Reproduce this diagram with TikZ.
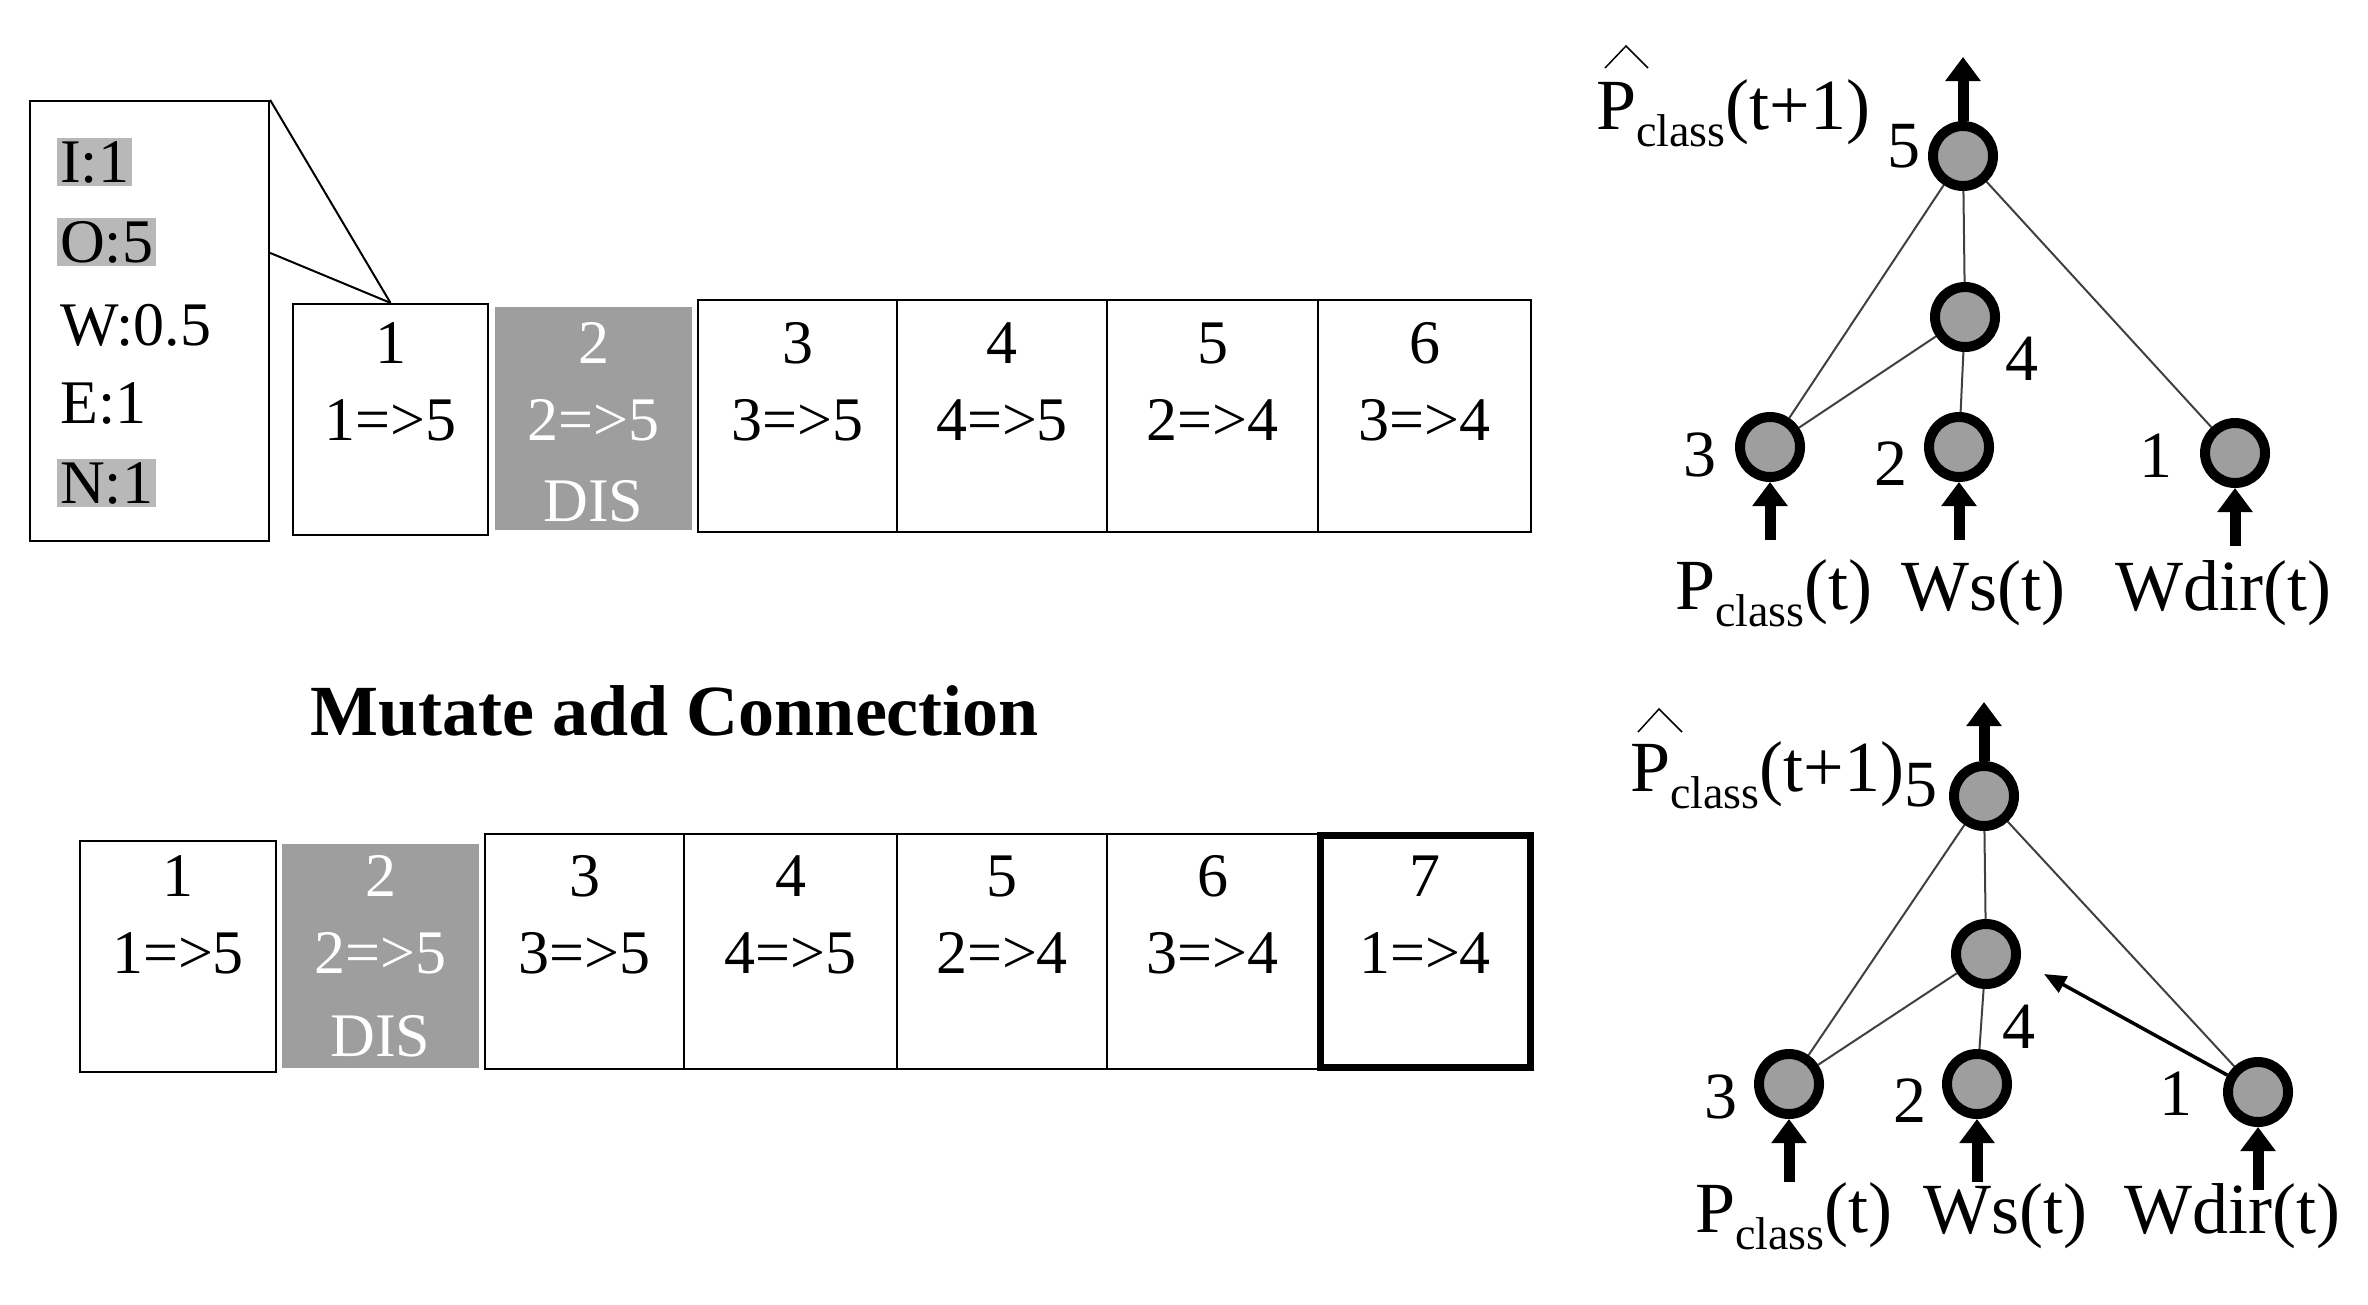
\documentclass[tikz,border=0pt]{standalone}
\usepackage{fontspec}
\setmainfont{Liberation Serif}
\usetikzlibrary{arrows.meta}
\begin{document}
\begin{tikzpicture}[x=1pt,y=-1pt,
  txt/.style={inner sep=0pt,font=\fontsize{62}{70}\selectfont},
  gtxt/.style={txt,text=white},
  box/.style={draw,line width=2.2pt,inner sep=0pt},
  dis/.style={fill=black!38,inner sep=0pt},
  hl/.style={txt,fill=black!28,inner sep=3pt,anchor=west},
  neu/.style={circle,draw,line width=10pt,fill=black!38,minimum size=60pt,inner sep=0pt},
  nlab/.style={inner sep=0pt,font=\fontsize{66}{70}\selectfont},
  io/.style={inner sep=0pt,font=\fontsize{72}{76}\selectfont},
  conn/.style={draw=black!75,line width=2pt},
  thick arrow/.style={line width=11pt,-{Triangle[width=34pt,length=24pt]}}]
\useasboundingbox (0,0) rectangle (2368,1304);
% ---- gene detail box
\node[box,minimum width=239pt,minimum height=440pt] (detail) at (149.5,321) {};
\node[hl] (gi) at (57,162) {I:1};
\node[hl] (go) at (57,242) {O:5};
\node[txt,anchor=west] (gw) at (60,325) {W:0.5};
\node[txt,anchor=west] (ge) at (60,403) {E:1};
\node[hl] (gn) at (57,483) {N:1};
% ---- top genome
\node[box,minimum width=195pt,minimum height=231pt] (t1) at (390.5,419.5) {};
\node[dis,minimum width=197pt,minimum height=223pt] (t2) at (593.5,418.5) {};
\foreach \i/\a/\b in {3/698/897,4/897/1107,5/1107/1318,6/1318/1531}{
  \node[box,minimum width=\b pt-\a pt,minimum height=232pt] (t\i) at ({(\a+\b)/2},416) {};}
\draw[line width=2pt] (t1.north) -- (detail.north east);
\draw[line width=2pt] (t1.north) -- ([yshift=-153pt]detail.north east);
\foreach \i/\e [count=\k] in {1/1=>5,2/2=>5,3/3=>5,4/4=>5,5/2=>4,6/3=>4}{
  \ifnum\k=2
    \node[gtxt] (tn\k) at (t\k.center |- 0,343) {\i};
    \node[gtxt] (te\k) at (t\k.center |- 0,420) {\e};
    \node[gtxt] (td\k) at (t\k.center |- 0,501) {DIS};
  \else
    \node[txt] (tn\k) at (t\k.center |- 0,343) {\i};
    \node[txt] (te\k) at (t\k.center |- 0,420) {\e};
  \fi}
% ---- title
\node[inner sep=0pt,font=\fontsize{72}{76}\selectfont\bfseries] (title) at (675,711) {Mutate add Connection};
% ---- bottom genome
\node[box,minimum width=196pt,minimum height=231pt] (b1) at (178,956.5) {};
\node[dis,minimum width=197pt,minimum height=224pt] (b2) at (380.5,956) {};
\foreach \i/\a/\b in {3/485/684,4/684/897,5/897/1107,6/1107/1318}{
  \node[box,minimum width=\b pt-\a pt,minimum height=235pt] (b\i) at ({(\a+\b)/2},951.5) {};}
\node[draw,line width=7pt,inner sep=0pt,minimum width=210pt,minimum height=232pt] (b7) at (1425,951.5) {};
\foreach \i/\e [count=\k] in {1/1=>5,2/2=>5,3/3=>5,4/4=>5,5/2=>4,6/3=>4,7/1=>4}{
  \ifnum\k=2
    \node[gtxt] (bn\k) at (b\k.center |- 0,876) {\i};
    \node[gtxt] (be\k) at (b\k.center |- 0,953) {\e};
    \node[gtxt] (bd\k) at (b\k.center |- 0,1036) {DIS};
  \else
    \node[txt] (bn\k) at (b\k.center |- 0,876) {\i};
    \node[txt] (be\k) at (b\k.center |- 0,953) {\e};
  \fi}
% ---- top network
\node[neu] (n5) at (1963,156) {};
\node[neu] (n4) at (1965,317) {};
\node[neu] (n3) at (1770,447) {};
\node[neu] (n2) at (1959,447) {};
\node[neu] (n1) at (2235,453) {};
\draw[conn] (n5) -- (n3); \draw[conn] (n5) -- (n4); \draw[conn] (n5) -- (n1);
\draw[conn] (n4) -- (n3); \draw[conn] (n4) -- (n2);
\node[nlab] (l5) at (1904,146) {5};
\node[nlab] (l4) at (2022,359) {4};
\node[nlab] (l3) at (1700,455) {3};
\node[nlab] (l2) at (1891,464) {2};
\node[nlab] (l1) at (2156,456) {1};
\coordinate (o5) at (1963,57);
\draw[thick arrow] (n5) -- (o5);
\node[io] (pin) at (1774,593) {P\raisebox{-0.5ex}{\fontsize{46}{50}\selectfont class}(t)};
\node[io] (ws) at (1983,593) {Ws(t)};
\node[io] (wd) at (2223,593) {Wdir(t)};
\coordinate (a3) at (1770,540); \coordinate (a2) at (1959,540); \coordinate (a1) at (2235,546);
\draw[thick arrow] (a3) -- (n3); \draw[thick arrow] (a2) -- (n2); \draw[thick arrow] (a1) -- (n1);
\node[io] (pout) at (1733,113) {P\raisebox{-0.5ex}{\fontsize{46}{50}\selectfont class}(t+1)};
\draw[line width=1.5pt] (1605,68) -- (1626,46) -- (1648,68);
% ---- bottom network
\node[neu] (m5) at (1984,796) {};
\node[neu] (m4) at (1986,954) {};
\node[neu] (m3) at (1789,1084) {};
\node[neu] (m2) at (1977,1084) {};
\node[neu] (m1) at (2258,1092) {};
\draw[conn] (m5) -- (m3); \draw[conn] (m5) -- (m4); \draw[conn] (m5) -- (m1);
\draw[conn] (m4) -- (m3); \draw[conn] (m4) -- (m2);
\coordinate (m4t) at (2044,974);
\draw[line width=3.5pt,-{Triangle[width=18pt,length=22pt]}] (m1) -- (m4t);
\node[nlab] (k5) at (1921,785) {5};
\node[nlab] (k4) at (2019,1027) {4};
\node[nlab] (k3) at (1721,1097) {3};
\node[nlab] (k2) at (1910,1101) {2};
\node[nlab] (k1) at (2176,1094) {1};
\coordinate (q5) at (1984,702);
\draw[thick arrow] (m5) -- (q5);
\node[io] (qin) at (1794,1216) {P\raisebox{-0.5ex}{\fontsize{46}{50}\selectfont class}(t)};
\node[io] (qws) at (2005,1216) {Ws(t)};
\node[io] (qwd) at (2232,1216) {Wdir(t)};
\coordinate (c3) at (1789,1182); \coordinate (c2) at (1977,1182); \coordinate (c1) at (2258,1190);
\draw[thick arrow] (c3) -- (m3); \draw[thick arrow] (c2) -- (m2); \draw[thick arrow] (c1) -- (m1);
\node[io] (qout) at (1767,775) {P\raisebox{-0.5ex}{\fontsize{46}{50}\selectfont class}(t+1)};
\draw[line width=1.5pt] (1638,732) -- (1659,709) -- (1682,732);
\end{tikzpicture}
\end{document}
